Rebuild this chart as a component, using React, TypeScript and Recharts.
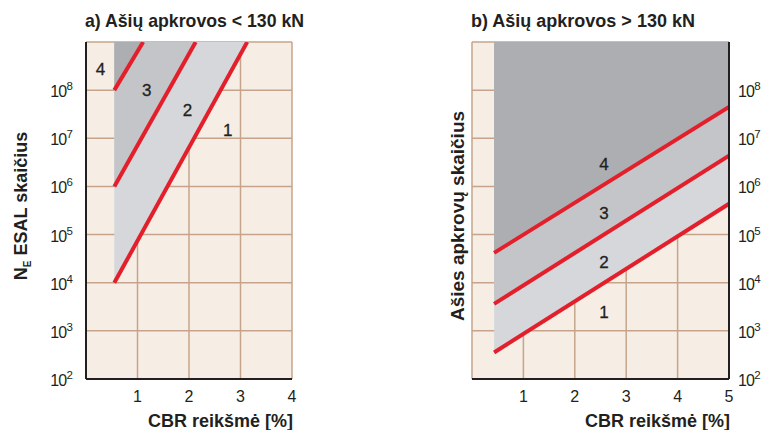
import React from "react";
import {
  ComposedChart,
  Area,
  Line,
  XAxis,
  YAxis,
  CartesianGrid,
  Scatter,
} from "recharts";

// All vertical values are log10(N) (N = number of ESAL / axle loads)
// Panel a) – axle loads < 130 kN : curve end points (CBR %, log10 N)
const leftLine1 = [
  { x: 0.55, y: 4 },
  { x: 3.13, y: 9 },
];
const leftLine2 = [
  { x: 0.55, y: 6 },
  { x: 2.13, y: 9 },
];
const leftLine3 = [
  { x: 0.55, y: 8 },
  { x: 1.11, y: 9 },
];
const leftRegionLabels = [
  { x: 0.28, y: 8.44, t: "4" },
  { x: 1.18, y: 8.01, t: "3" },
  { x: 1.97, y: 7.58, t: "2" },
  { x: 2.75, y: 7.17, t: "1" },
];
const leftXTicks = [1, 2, 3, 4];

// Panel b) – axle loads > 130 kN
const rightLine1 = [
  { x: 0.43, y: 2.55 },
  { x: 5, y: 5.64 },
];
const rightLine2 = [
  { x: 0.43, y: 3.56 },
  { x: 5, y: 6.64 },
];
const rightLine3 = [
  { x: 0.43, y: 4.62 },
  { x: 5, y: 7.65 },
];
const rightRegionLabels = [
  { x: 2.57, y: 6.47, t: "4" },
  { x: 2.57, y: 5.44, t: "3" },
  { x: 2.57, y: 4.44, t: "2" },
  { x: 2.57, y: 3.4, t: "1" },
];
const rightXTicks = [1, 2, 3, 4, 5];

const yExponentTicks = [2, 3, 4, 5, 6, 7, 8];
const yDomainLog = [2, 9];

const titleA = "a) Ašių apkrovos < 130 kN";
const titleB = "b) Ašių apkrovos > 130 kN";
const xTitle = "CBR reikšmė [%]";
const yTitleA = ["N", "E", " ESAL skaičius"];
const yTitleB = "Ašies apkrovų skaičius";

const BEIGE = "#f6eee4";
const LIGHT = "#d5d7db";
const MID = "#c4c5c8";
const DARK = "#adaeb1";
const RED = "#e31f2b";
const GRID = "#c6a48b";
const INK = "#231f20";
const NUM_FONT = "'Liberation Sans', Arial, sans-serif";
const BOLD_FONT = "'Liberation Sans', Arial, sans-serif";

type Pt = { x: number; y: number };

function mergeLines(lines: Pt[][]) {
  const map = new Map<number, any>();
  lines.forEach((ln, i) => {
    ln.forEach((p) => {
      const row = map.get(p.x) || { x: p.x };
      row["l" + i] = p.y;
      map.set(p.x, row);
    });
  });
  return Array.from(map.values()).sort((a, b) => a.x - b.x);
}

const leftData = mergeLines([leftLine1, leftLine2, leftLine3]);
const rightData = mergeLines([rightLine1, rightLine2, rightLine3]);

const PowTick = (props: any) => {
  const { x, y, payload, side } = props;
  const left = side === "left";
  return (
    <text
      x={left ? x - 14 : x + 9}
      y={y + 7}
      textAnchor={left ? "end" : "start"}
      fontSize={16}
      fill={INK}
      fontFamily={NUM_FONT}
      letterSpacing={-0.8}
    >
      10
      <tspan dy={-7} fontSize={11.5}>
        {payload.value}
      </tspan>
    </text>
  );
};

const XTick = (props: any) => {
  const { x, y, payload } = props;
  return (
    <text
      x={x}
      y={y + 23}
      textAnchor="middle"
      fontSize={16}
      fill={INK}
      fontFamily={NUM_FONT}
    >
      {payload.value}
    </text>
  );
};

const RegionLabel = (props: any) => {
  const { cx, cy, payload } = props;
  return (
    <text
      x={cx}
      y={cy + 6}
      textAnchor="middle"
      fontSize={17}
      fill={INK}
      fontFamily={NUM_FONT}
      stroke={INK}
      strokeWidth={0.3}
    >
      {payload.t}
    </text>
  );
};

const borderLine = { stroke: INK, strokeWidth: 2 };

function Panel(props: {
  data: any[];
  labels: any[];
  xMax: number;
  xTicks: number[];
  side: "left" | "right";
  width: number;
  margin: any;
  yWidth: number;
}) {
  const { data, labels, xMax, xTicks, side, width, margin, yWidth } = props;
  const other = side === "left" ? "right" : "left";
  const fills = [LIGHT, MID, DARK];
  return (
    <ComposedChart width={width} height={430} data={data} margin={margin}>
      <CartesianGrid
        stroke={GRID}
        strokeWidth={1.5}
        fill={BEIGE}
        fillOpacity={1}
      />
      <XAxis
        type="number"
        dataKey="x"
        domain={[0, xMax]}
        ticks={xTicks}
        height={51}
        axisLine={borderLine}
        tickLine={false}
        tickSize={0}
        tickMargin={0}
        tick={<XTick />}
        allowDataOverflow
      />
      <XAxis
        xAxisId="frameTop"
        orientation="top"
        type="number"
        dataKey="x"
        domain={[0, xMax]}
        height={0}
        axisLine={borderLine}
        tick={false}
        tickLine={false}
        allowDataOverflow
      />
      <YAxis
        type="number"
        domain={yDomainLog}
        ticks={yExponentTicks}
        orientation={side}
        width={yWidth}
        axisLine={borderLine}
        tickLine={false}
        tickSize={0}
        tickMargin={0}
        tick={<PowTick side={side} />}
        allowDataOverflow
      />
      <YAxis
        yAxisId="frameOther"
        type="number"
        domain={yDomainLog}
        orientation={other}
        width={0}
        axisLine={borderLine}
        tick={false}
        tickLine={false}
        allowDataOverflow
      />
      {[0, 1, 2].map((i) => (
        <Area
          key={"a" + i}
          dataKey={"l" + i}
          baseValue={9}
          type="linear"
          fill={fills[i]}
          fillOpacity={1}
          stroke="none"
          connectNulls
          isAnimationActive={false}
          activeDot={false}
          dot={false}
        />
      ))}
      {[0, 1, 2].map((i) => (
        <Line
          key={"l" + i}
          dataKey={"l" + i}
          type="linear"
          stroke={RED}
          strokeWidth={4}
          connectNulls
          dot={false}
          activeDot={false}
          isAnimationActive={false}
        />
      ))}
      <Scatter
        data={labels}
        dataKey="y"
        shape={<RegionLabel />}
        isAnimationActive={false}
      />
    </ComposedChart>
  );
}

export default function App() {
  return (
    <div
      style={{
        position: "absolute",
        left: 0,
        top: 0,
        width: 762,
        height: 430,
        background: "#ffffff",
        overflow: "hidden",
      }}
    >
      <div style={{ position: "absolute", left: 0, top: 0 }}>
        <Panel
          data={leftData}
          labels={leftRegionLabels}
          xMax={4}
          xTicks={leftXTicks}
          side="left"
          width={300}
          margin={{ top: 42, right: 8, bottom: 0, left: 0 }}
          yWidth={86}
        />
      </div>
      <div style={{ position: "absolute", left: 440, top: 0 }}>
        <Panel
          data={rightData}
          labels={rightRegionLabels}
          xMax={5}
          xTicks={rightXTicks}
          side="right"
          width={322}
          margin={{ top: 42, right: 0, bottom: 0, left: 32 }}
          yWidth={33}
        />
      </div>
      <svg
        width={762}
        height={430}
        style={{ position: "absolute", left: 0, top: 0, pointerEvents: "none" }}
        fontFamily={BOLD_FONT}
        fontWeight="bold"
        fill={INK}
      >
        <text x={85} y={27} fontSize={17.7}>
          {titleA}
        </text>
        <text x={471} y={27} fontSize={18}>
          {titleB}
        </text>
        <text x={293} y={427} fontSize={18} textAnchor="end">
          {xTitle}
        </text>
        <text x={730} y={427} fontSize={18} textAnchor="end">
          {xTitle}
        </text>
        <text
          x={27}
          y={206}
          fontSize={18}
          textAnchor="middle"
          transform="rotate(-90 27 206)"
        >
          {yTitleA[0]}
          <tspan dy={4} fontSize={10}>
            {yTitleA[1]}
          </tspan>
          <tspan dy={-4}>{yTitleA[2]}</tspan>
        </text>
        <text
          x={464}
          y={216}
          fontSize={19}
          textAnchor="middle"
          transform="rotate(-90 464 216)"
        >
          {yTitleB}
        </text>
      </svg>
    </div>
  );
}
